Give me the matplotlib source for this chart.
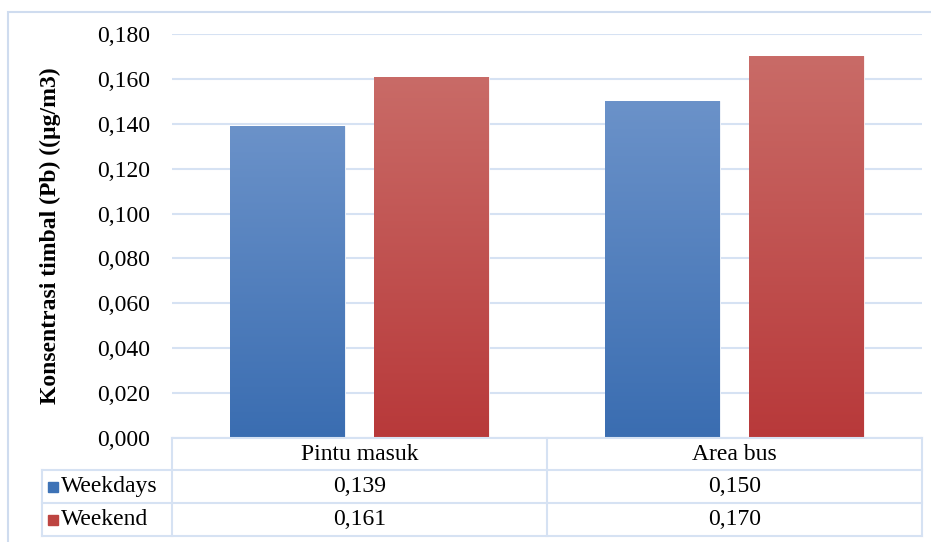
import numpy as np
import matplotlib.pyplot as plt
from matplotlib.colors import LinearSegmentedColormap
from matplotlib.patches import Rectangle

plt.rcParams['font.family'] = ['Liberation Serif', 'DejaVu Serif']

categories = ["Pintu masuk", "Area bus"]
series_names = ["Weekdays", "Weekend"]
weekdays = [0.139, 0.150]
weekend = [0.161, 0.170]
y_ticks = [0.0, 0.02, 0.04, 0.06, 0.08, 0.10, 0.12, 0.14, 0.16, 0.18]

W, H = 931, 542
fig = plt.figure(figsize=(W / 100, H / 100), dpi=100)
FS = 17


def fx(px):
    return px / W


def fy(py):
    return 1 - py / H


grid_col = "#d6e2f3"
frame_col = "#cfdcef"

# outer chart frame
fig.add_artist(Rectangle((fx(8), fy(560)), fx(940) - fx(8), fy(12) - fy(560),
                         transform=fig.transFigure, fill=False,
                         edgecolor=frame_col, linewidth=1.5))

left, right, top, bottom = 172, 922, 34, 438
ax = fig.add_axes([fx(left), fy(bottom), fx(right) - fx(left), fy(top) - fy(bottom)])

x = np.arange(len(categories))
bar_w = 115 / 375
gap = 29 / 375
offsets = [-(bar_w + gap) / 2, (bar_w + gap) / 2]
gradients = [("#6b92c9", "#3a6db1"), ("#c96b67", "#b8393a")]

for vals, off, (c_top, c_bot) in zip([weekdays, weekend], offsets, gradients):
    bars = ax.bar(x + off, vals, width=bar_w, color=c_bot, zorder=2,
                  edgecolor="white", linewidth=0.6)
    cmap = LinearSegmentedColormap.from_list("g", [c_bot, c_top])
    grad = np.linspace(0, 1, 256).reshape(-1, 1)
    for b in bars:
        x0, y0 = b.get_x(), b.get_y()
        im = ax.imshow(grad, extent=(x0, x0 + b.get_width(), y0, y0 + b.get_height()),
                       origin="lower", aspect="auto", cmap=cmap, zorder=2.5)
        im.set_clip_path(b)

ax.set_xlim(-0.5, len(categories) - 0.5)
ax.set_ylim(0, 0.18)
ax.set_yticks(y_ticks)
ax.set_yticklabels([f"{t:.3f}".replace(".", ",") for t in y_ticks], fontsize=FS)
ax.tick_params(axis="y", length=0, pad=16)
ax.set_xticks([])
ax.grid(axis="y", color=grid_col, linewidth=1.5, zorder=0)
ax.set_axisbelow(True)
for s in ax.spines.values():
    s.set_visible(False)

ax.set_ylabel("Konsentrasi timbal (Pb) ((µg/m3)", fontsize=FS, fontweight="bold")
ax.yaxis.set_label_coords((fx(50) - fx(left)) / (fx(right) - fx(left)), 0.5)
ax.yaxis.label.set_va("center")

# data table under the plot
col_x = [42, 172, 547, 922]
row_y = [438, 470, 503, 536]


def hline(x0, x1, y):
    fig.add_artist(plt.Line2D([fx(x0), fx(x1)], [fy(y), fy(y)], transform=fig.transFigure,
                              color=grid_col, linewidth=1.5))


def vline(x, y0, y1):
    fig.add_artist(plt.Line2D([fx(x), fx(x)], [fy(y0), fy(y1)], transform=fig.transFigure,
                              color=grid_col, linewidth=1.5))


hline(172, 922, row_y[0])
for y in row_y[1:]:
    hline(col_x[0], 922, y)
vline(col_x[0], row_y[1], row_y[3])
for cx in col_x[1:]:
    vline(cx, row_y[0], row_y[3])

for i, cat in enumerate(categories):
    cx = (col_x[i + 1] + col_x[i + 2]) / 2
    fig.text(fx(cx), fy((row_y[0] + row_y[1]) / 2), cat, ha="center", va="center", fontsize=FS)

swatch = ["#3d72b6", "#bd4441"]
for r, (name, vals) in enumerate(zip(series_names, [weekdays, weekend])):
    yc = (row_y[r + 1] + row_y[r + 2]) / 2
    fig.add_artist(Rectangle((fx(48), fy(yc + 5)), fx(10), fy(0) - fy(10),
                             transform=fig.transFigure, color=swatch[r]))
    fig.text(fx(61), fy(yc), name, ha="left", va="center", fontsize=FS)
    for i, v in enumerate(vals):
        cx = (col_x[i + 1] + col_x[i + 2]) / 2
        fig.text(fx(cx), fy(yc), f"{v:.3f}".replace(".", ","), ha="center", va="center",
                 fontsize=FS)

fig.savefig("out.png", dpi=100)
